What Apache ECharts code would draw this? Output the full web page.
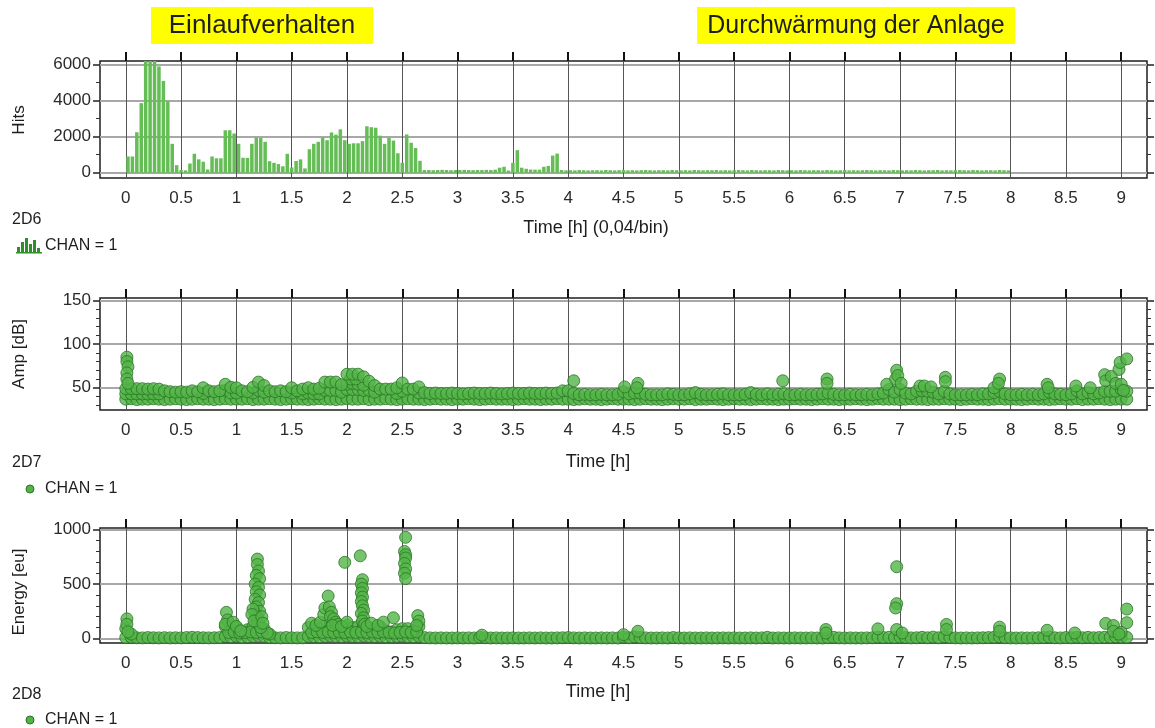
<!DOCTYPE html>
<html><head><meta charset="utf-8">
<script src="https://cdn.jsdelivr.net/npm/echarts@6/dist/echarts.min.js"></script>
<style>html,body{margin:0;padding:0;background:#fff}#c{width:1155px;height:728px}</style>
</head><body><div id="c"></div>
<script>
// ---------- data ----------
const xTickValues = [0,0.5,1,1.5,2,2.5,3,3.5,4,4.5,5,5.5,6,6.5,7,7.5,8,8.5,9];
const hitsMajor = [0,2000,4000,6000];
const hitsMinor = [1000,3000,5000];
const ampMajor = [50,100,150];
const ampMinor = [30,40,60,70,80,90,110,120,130,140];
const energyMajor = [0,500,1000];
const energyMinor = [100,200,300,400,600,700,800,900];

// histogram: hits per 0.04 h bin, starting at t = 0
const binWidth = 0.04;
const hits = [
 900,900,2240,3850,6200,6200,6200,5880,5080,3950,
 1600,420,150,130,510,1050,740,610,180,900,
 800,800,2350,2350,2170,1600,830,820,1600,1950,
 1920,1710,640,550,480,360,1050,290,650,740,
 240,1300,1600,1710,1950,1800,2230,2110,2400,1800,
 1600,1630,1630,1750,2570,2520,2490,2050,1600,1930,
 1780,1080,550,2120,1660,1370,660,150,
 150,140,150,160,150,140,150,150,160,150,140,150,150,160,150,170,
 280,330,120,550,1250,280,220,180,170,170,330,380,950,1060,150,
 130,140,130,150,140,130,140,140,130,150,
 140,130,140,150,130,140,130,140,150,140,
 130,140,140,130,150,140,130,140,130,150,
 140,130,140,140,150,130,140,130,140,150,
 140,130,150,140,130,140,140,130,150,140,
 130,140,130,150,140,130,140,140,130,150,
 140,130,140,150,130,140,130,140,150,140,
 130,140,140,130,150,140,130,140,130,150,
 140,130,140,140,150,130,140,130,140,150,
 140,130,150,140,130,140,140,130,150,140,
 130
];

// amplitude: dense band sampled every 0.05 h (upper and lower rows of the band)
const bandStep = 0.05;
const ampUpper = [
 49,49,49,49,48.5,49,48.5,46.5,45.5,45,
 45.5,45,46.5,45.5,50,46.5,45.5,46.5,54,50.5,
 50,46.5,45.5,50.5,56.5,52.5,46.5,45.5,46.5,45.5,
 50,46.5,48.5,50,48.5,49.5,56.5,56.5,56.5,53.5,
 65.5,65.5,65.5,62.5,57.5,52.5,48.5,48.5,48.5,50,
 55.5,48.5,48.5,51,44.5,
 43.5,44,43.5,43.5,44,43.5,43,43.5,44,43.5,43.5,44,43.5,43,43.5,44,43.5,43.5,44,43.5,43.5,44,43.5,44,
 46.5,46.5,43.5,
 42,42.5,42,42,42.5,42,42,42.5,45.5,43,
 44,44,42.5,42,42,42,43,42.5,42,42,
 43,44.5,42.5,42,42,42.5,43,42,42,42,
 42.5,44.5,42.5,42,43,42,42.5,43,42,42,
 42.5,42,42,42.5,43,44,42.5,42,42,42.5,
 42,42,42.5,42,43,44,48,45,48,44,
 43,46,46.5,46,45,43,46,43,42,42,
 42,42.5,42,43,43,44.5,46,43,42,42,
 42.5,42,42.5,42,43,45,43,42.5,42,43,
 46.5,43,44.5,43,44,46,46,46,48,46
];
const ampLower = [
 37,37.5,36.5,37,37,37.5,37,36.5,37,37.5,
 37,36.5,37,37.5,37,37,36.5,37,37.5,37,
 37,37,37.5,36.5,37,37,37.5,37,36.5,37,
 37.5,37,37,36.5,37,37.5,37,37,36.5,37,
 37.5,37,37,37.5,36.5,37,37,37.5,37,36.5,
 37,37.5,37,37,36.5,37,37.5,37,37,36.5,
 37,37,37.5,37,36.5,37,37.5,37,37,37,
 36.5,37,37.5,37,37,36.5,37,37,37.5,37,
 37,36.5,37,37.5,37,37,36.5,37,37.5,37,
 37,37,36.5,37,37.5,37,37,36.5,37,37.5,
 37,37,37.5,36.5,37,37,37.5,37,36.5,37,
 37.5,37,37,36.5,37,37.5,37,37,36.5,37,
 37,37.5,37,37,36.5,37,37.5,37,37,36.5,
 37,37,37.5,37,36.5,37,37.5,37,37,37,
 36.5,37,37.5,37,37,36.5,37,37,37.5,37,
 37,36.5,37,37.5,37,37,36.5,37,37.5,37,
 37,37,36.5,37,37.5,37,37,36.5,37,37.5,
 37,37,37.5,36.5,37,37,37.5,37,36.5,37,
 37,37
];
// extra amplitude hits [time h, dB]
const ampFill = [
 [0,43],[0.05,43],[0.1,43],[0.15,43],[0.2,43],[0.25,43],[0.3,43],
 [0.7,43.5],[0.9,47],[0.95,44],[1.0,44],[1.15,44],[1.2,47],[1.25,45],[1.5,44],[1.6,43],
 [1.65,44],[1.7,43],[1.75,43],[1.8,47],[1.85,47],[1.9,47],[1.95,45],[2.0,48],[2.05,48],
 [2.1,48],[2.15,47],[2.2,47],[2.25,45],[2.45,43.5],[2.5,46],[2.65,44],
 [2.0,54],[2.05,55],[2.1,54],[2.15,53],[2.03,60],[2.08,60]
];
const ampOutliers = [
 [0.01,85],[0.01,80],[0.02,74],[0.01,67],[0.01,60],[0.02,55],
 [4.05,58],[4.51,51],[4.63,55],[4.62,50],[5.94,58],[6.34,60],[6.34,55],[6.88,54],
 [6.97,70],[6.96,60],[6.98,64],[7.01,55],[7.18,52],[7.22,52],[7.28,51],[7.41,62],[7.41,57],
 [7.85,50],[7.90,60],[7.89,55],[8.33,54],[8.34,50],[8.59,52],[8.72,50],[8.85,65],[8.86,58],
 [8.91,63],[8.95,55],[8.98,71],[8.99,79],[9.05,83],[9.0,54],[9.02,47]
];

// energy: baseline row every 0.05 h, plus denser mass and isolated hits
const energyBase = [
 8,10,6,5,8,6,5,7,5,6,5,8,10,8,6,5,6,8,
 20,15,20,12,15,20,25,20,10,
 6,5,8,6,5,6,
 20,18,15,20,25,20,18,22,20,18,25,20,18,20,15,18,20,22,18,15,20,
 8,5,4,5,4,4,5,4,5,4,
 10,6,4,5,4,4,5,4,4,5,
 4,5,4,4,5,6,8,5,4,5,
 4,4,5,4,5,4,12,6,15,8,
 5,4,4,5,4,8,5,4,5,4,
 4,5,4,4,5,4,5,4,4,5,
 4,5,10,4,5,4,4,5,4,4,
 5,4,4,6,10,5,4,5,4,4,
 5,6,12,8,10,8,12,8,5,6,
 10,6,12,6,15,8,5,4,5,4,
 5,6,8,10,15,6,5,4,5,4,
 5,6,8,12,6,5,8,6,10,6,
 10,6,8,10,12,15,12,10
];
const energyMass = [
 [0,90],[0.05,40],[0.9,110],[0.95,80],[1.0,100],[1.05,60],[1.1,80],[1.15,110],[1.2,130],[1.25,90],[1.3,40],
 [1.65,100],[1.7,80],[1.75,90],[1.8,120],[1.85,140],[1.9,120],[1.95,90],[2.0,120],[2.05,100],[2.1,110],
 [2.15,130],[2.2,100],[2.25,80],[2.3,110],[2.35,70],[2.4,60],[2.45,80],[2.5,90],[2.55,90],[2.6,70],[2.65,110],
 [1.68,55],[1.73,60],[1.78,55],[1.83,60],[1.88,55],[1.93,60],[1.98,55],[2.03,60],[2.08,55],[2.13,60],
 [2.18,55],[2.23,60],[2.28,55],[2.33,60],[2.38,55],[2.43,50],[2.48,55],[2.53,60],[2.58,55],[2.63,60],
 [0.93,55],[0.98,60],[1.03,50],[1.08,55],[1.13,60],[1.18,55],[1.23,60],[1.28,50]
];
const energyOutliers = [
 [0.01,180],[0.01,130],[0.02,60],
 [0.91,240],[0.92,170],[0.90,130],[0.97,150],[1.0,110],[1.04,70],
 [1.19,730],[1.19,680],[1.20,620],[1.18,580],[1.21,550],[1.17,500],[1.20,470],[1.18,430],[1.21,400],
 [1.17,360],[1.20,330],[1.18,290],[1.21,250],[1.17,220],[1.20,180],[1.19,140],[1.22,100],[1.15,270],
 [1.14,220],[1.16,160],[1.23,200],[1.24,140],
 [1.68,140],[1.72,120],[1.76,150],[1.79,220],[1.80,280],[1.83,390],[1.84,290],[1.86,240],[1.85,200],
 [1.88,180],[1.90,150],[1.92,130],[1.87,120],[1.95,110],
 [1.98,700],[2.0,150],[2.12,760],
 [2.14,540],[2.13,500],[2.14,460],[2.13,420],[2.14,380],[2.13,340],[2.14,300],[2.15,260],[2.13,230],
 [2.15,190],[2.14,160],[2.16,130],[2.18,110],
 [2.22,140],[2.28,120],[2.33,150],[2.42,190],
 [2.53,930],[2.52,800],[2.53,770],[2.53,740],[2.52,690],[2.53,640],[2.52,600],[2.53,550],
 [2.64,210],[2.65,160],[2.63,120],[3.22,30],
 [4.5,35],[4.63,66],[6.33,82],[6.33,50],[6.80,88],[6.97,660],[6.97,320],[6.96,280],[6.97,82],[7.02,50],
 [7.42,129],[7.42,82],[7.90,104],[7.90,66],[8.33,75],[8.58,50],[8.86,138],[8.93,119],[8.93,66],
 [9.0,57],[9.05,270],[9.05,145],[8.98,40]
];

// ---------- chart ----------
const FONT = '"Liberation Sans", Arial, sans-serif';
const TXT = '#2a2a2a';
const xMin = -0.233, xMax = 9.233;
const gridDefs = [
  {top: 61, height: 117},
  {top: 298, height: 112},
  {top: 528, height: 115}
];
const yRanges = [[-290, 6180],[24.6, 152.6],[-42, 1016]];
const majors = [hitsMajor, ampMajor, energyMajor];
const minors = [hitsMinor, ampMinor, energyMinor];

const grid = gridDefs.map(g => ({
  left: 100, right: 8, top: g.top, height: g.height,
  show: true, borderColor: '#1e1e1e', borderWidth: 1.5, backgroundColor: 'rgba(0,0,0,0)'
}));

const noZeroLine = {show: false, onZero: false};
const xAxis = [];
const yAxis = [];
for (let g = 0; g < 3; g++) {
  xAxis.push({
    gridIndex: g, type: 'value', min: xMin, max: xMax, position: 'bottom',
    axisLine: noZeroLine,
    axisTick: {show: false, customValues: xTickValues},
    axisLabel: {customValues: xTickValues, fontFamily: FONT, fontSize: 17, color: TXT, margin: 12,
      formatter: v => String(v)},
    splitLine: {show: true, lineStyle: {color: '#555', width: 1}}
  });
  xAxis.push({
    gridIndex: g, type: 'value', min: xMin, max: xMax, position: 'top',
    axisLine: noZeroLine,
    axisTick: {show: true, customValues: xTickValues, length: 9, lineStyle: {color: '#111', width: 2}},
    axisLabel: {show: false},
    splitLine: {show: false}
  });
  const [mn, mx] = yRanges[g];
  const base = {gridIndex: g, type: 'value', min: mn, max: mx, axisLine: noZeroLine};
  yAxis.push(Object.assign({}, base, {
    position: 'left',
    axisTick: {customValues: majors[g], length: 7, lineStyle: {color: '#222', width: 1.5}},
    axisLabel: {customValues: majors[g], fontFamily: FONT, fontSize: 17, color: TXT, margin: 9,
      formatter: v => String(v)},
    splitLine: {show: true, lineStyle: {color: '#a8a8a8', width: 2}}
  }));
  yAxis.push(Object.assign({}, base, {
    position: 'left',
    axisTick: {customValues: minors[g], length: 4, lineStyle: {color: '#333', width: 1}},
    axisLabel: {show: false}, splitLine: {show: false}
  }));
  yAxis.push(Object.assign({}, base, {
    position: 'right',
    axisTick: {customValues: majors[g], length: 7, lineStyle: {color: '#222', width: 1.5}},
    axisLabel: {show: false}, splitLine: {show: false}
  }));
  yAxis.push(Object.assign({}, base, {
    position: 'right',
    axisTick: {customValues: minors[g], length: 4, lineStyle: {color: '#333', width: 1}},
    axisLabel: {show: false}, splitLine: {show: false}
  }));
}

const rowData = (arr) => arr.map((v, i) => [i * bandStep, v]);
const dotStyle = {color: '#52b447', borderColor: '#2a7526', borderWidth: 1};
function scatter(g, data) {
  return {type: 'scatter', xAxisIndex: 2 * g, yAxisIndex: 4 * g, data: data,
    symbol: 'circle', symbolSize: 12, itemStyle: dotStyle, silent: true, animation: false};
}

const series = [
  {type: 'bar', xAxisIndex: 0, yAxisIndex: 0,
   data: hits.map((v, i) => [i * binWidth + binWidth / 2, v]),
   barWidth: 3.5, itemStyle: {color: '#64bd55'}, silent: true, animation: false},
  scatter(1, rowData(ampLower)),
  scatter(1, ampFill),
  scatter(1, rowData(ampUpper)),
  scatter(1, ampOutliers),
  scatter(2, rowData(energyBase)),
  scatter(2, energyMass),
  scatter(2, energyOutliers)
];

function txt(x, y, text, size, opts) {
  return Object.assign({type: 'text', x: x, y: y, z: 100,
    style: {text: text, fill: '#1e1e1e', font: size + 'px ' + FONT,
      textAlign: (opts && opts.align) || 'left', textVerticalAlign: 'middle',
      align: (opts && opts.align) || 'left', verticalAlign: 'middle'}}, opts && opts.extra || {});
}
const graphics = [
  {type: 'rect', shape: {x: 151, y: 7, width: 222, height: 37}, style: {fill: '#ffff00'}},
  txt(262, 26, 'Einlaufverhalten', 26, {align: 'center'}),
  {type: 'rect', shape: {x: 697, y: 7, width: 318, height: 37}, style: {fill: '#ffff00'}},
  txt(856, 26, 'Durchwärmung der Anlage', 25, {align: 'center'}),
  txt(19, 120, 'Hits', 17, {align: 'center', extra: {rotation: Math.PI / 2}}),
  txt(19, 354, 'Amp [dB]', 17, {align: 'center', extra: {rotation: Math.PI / 2}}),
  txt(19, 592, 'Energy [eu]', 17, {align: 'center', extra: {rotation: Math.PI / 2}}),
  txt(596, 228, 'Time [h] (0,04/bin)', 18, {align: 'center'}),
  txt(598, 462, 'Time [h]', 18, {align: 'center'}),
  txt(598, 692, 'Time [h]', 18, {align: 'center'}),
  txt(12, 220, '2D6', 16),
  txt(45, 246, 'CHAN = 1', 16),
  txt(12, 463, '2D7', 16),
  {type: 'circle', shape: {cx: 30, cy: 489, r: 4}, style: {fill: '#52b447', stroke: '#2a7526', lineWidth: 1}},
  txt(45, 489, 'CHAN = 1', 16),
  txt(12, 695, '2D8', 16),
  {type: 'circle', shape: {cx: 30, cy: 720, r: 4}, style: {fill: '#52b447', stroke: '#2a7526', lineWidth: 1}},
  txt(45, 720, 'CHAN = 1', 16)
];
// small histogram legend icon
const iconBars = [5, 10, 14, 8, 12, 4];
iconBars.forEach((h, i) => graphics.push({type: 'rect', shape: {x: 17 + i * 4, y: 252 - h, width: 3, height: h}, style: {fill: '#2f8f2a'}}));
graphics.push({type: 'rect', shape: {x: 16, y: 252, width: 26, height: 1.5}, style: {fill: '#2f8f2a'}});

const chart = echarts.init(document.getElementById('c'), null, {renderer: 'canvas'});
chart.setOption({
  backgroundColor: '#fff',
  animation: false,
  grid: grid, xAxis: xAxis, yAxis: yAxis, series: series,
  graphic: {elements: graphics}
});
</script></body></html>
